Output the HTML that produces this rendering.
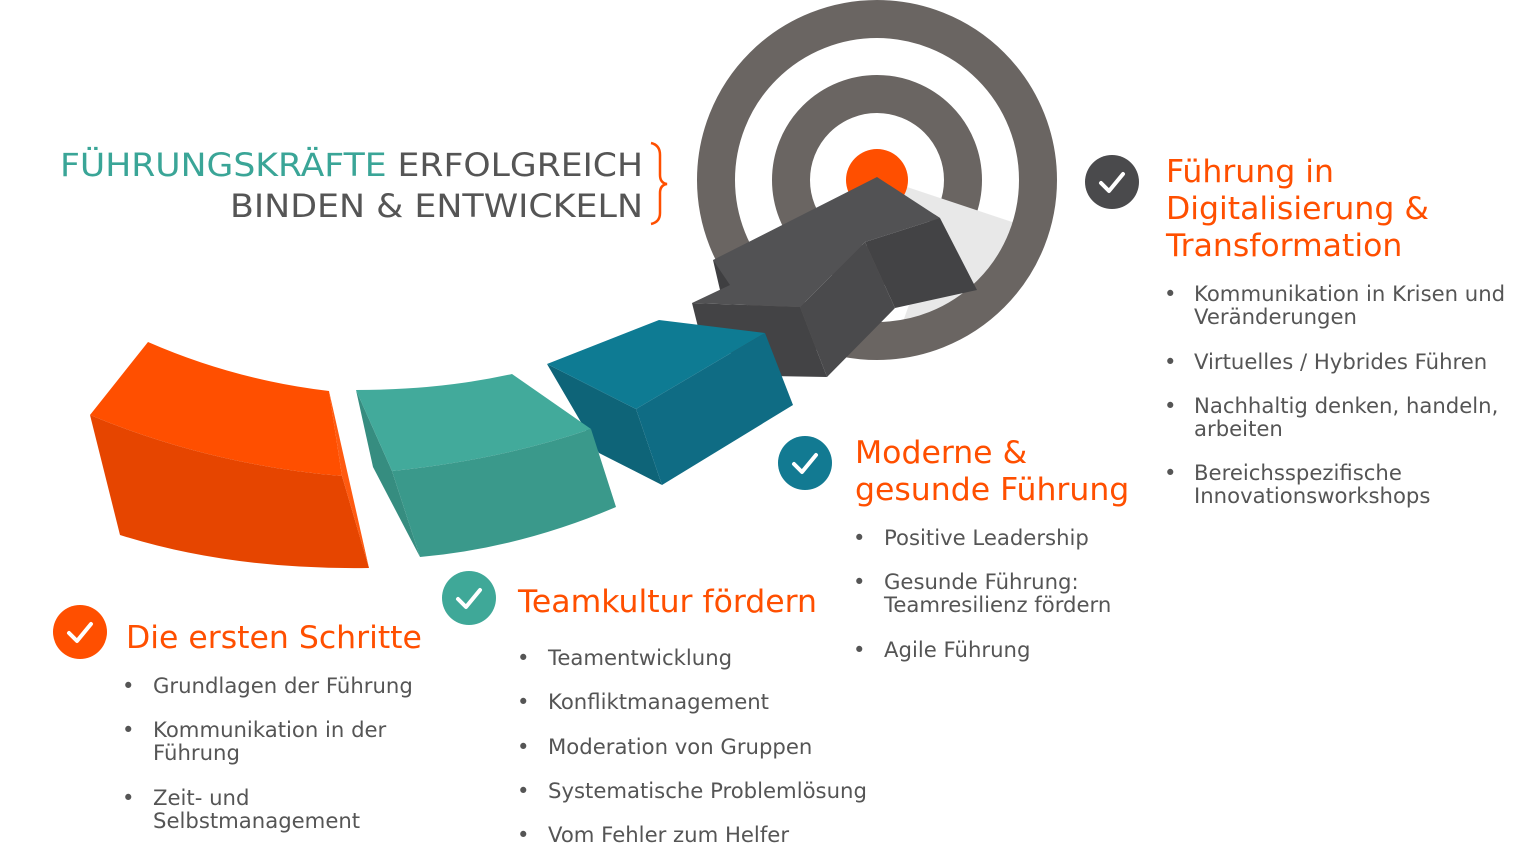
<!DOCTYPE html>
<html><head><meta charset="utf-8"><style>
html,body{margin:0;padding:0;background:#fff;width:1536px;height:860px;overflow:hidden}
svg{display:block}
text{font-family:"DejaVu Sans","Liberation Sans",sans-serif}
.b{fill:#555;font-size:21.2px}
.h{fill:#ff4f00;font-size:31.5px}
</style></head><body>
<svg width="1536" height="860" viewBox="0 0 1536 860" xmlns="http://www.w3.org/2000/svg">
<defs><clipPath id="c"><circle cx="877" cy="180" r="142"/></clipPath></defs>
<!-- target -->
<circle cx="877" cy="180" r="86" fill="none" stroke="#6a6562" stroke-width="38"/>
<polygon clip-path="url(#c)" points="877,177 1030,228 1030,330 900,330 940,218" fill="#e8e8e8"/>
<circle cx="877" cy="180" r="161" fill="none" stroke="#6a6562" stroke-width="38"/>
<circle cx="877" cy="180" r="31" fill="#ff4f00"/>
<!-- dark arrow -->
<polygon points="713,260 760,258 740,290 720,290" fill="#3f3f41"/>
<polygon points="692,303 800,307 827,377 770,376 700,335" fill="#434345"/>
<polygon points="713,260 877,177 940,218 865,242 800,307 692,303 730,285" fill="#525254"/>
<polygon points="865,242 940,218 977,290 895,308" fill="#434345"/>
<polygon points="800,307 865,242 895,308 827,377" fill="#4a4a4c"/>
<!-- blue -->
<polygon points="547,364 636,409 662,485 599,453" fill="#0e6478"/>
<polygon points="547,364 659,320 765,333 636,409" fill="#0e7b93"/>
<polygon points="636,409 765,333 793,405 662,485" fill="#0f6c84"/>
<!-- teal -->
<polygon points="356,390 392,471 420,557 373,467" fill="#368d80"/>
<path d="M356,390 Q440,390 512,374 L591,429 Q500,460 392,471 Z" fill="#42aa9b"/>
<path d="M392,471 Q500,460 591,429 L616,507 Q520,548 420,557 Z" fill="#3a998b"/>
<!-- orange -->
<path d="M148,342 Q235,380 329,391 L342,476 Q210,465 90,415 Z" fill="#ff4f00"/>
<path d="M90,415 Q210,465 342,476 L369,568 Q230,570 120,535 Z" fill="#e64500"/>
<polygon points="329,391 342,476 369,568" fill="#ff5a10"/>
<!-- title -->
<text x="643" y="176" text-anchor="end" font-size="32" textLength="583" lengthAdjust="spacingAndGlyphs"><tspan fill="#3aa597">FÜHRUNGSKRÄFTE</tspan><tspan fill="#555"> ERFOLGREICH</tspan></text>
<text x="643" y="217" text-anchor="end" font-size="32" fill="#555" textLength="413" lengthAdjust="spacingAndGlyphs">BINDEN &amp; ENTWICKELN</text>
<path d="M651,143 Q660,145 660,155 L660,175 Q660,183 667,184 Q660,185 660,193 L660,213 Q660,222 651,224" fill="none" stroke="#ff4f00" stroke-width="2.5"/>
<!-- checks -->
<g stroke="#fff" stroke-width="4" fill="none" stroke-linecap="round" stroke-linejoin="round">
<circle cx="1112" cy="182" r="27" fill="#4a4a4c" stroke="none"/><path d="M1101,183 L1109,191 L1123,174"/>
<circle cx="805" cy="463" r="27" fill="#127a92" stroke="none"/><path d="M794,464 L802,472 L816,455"/>
<circle cx="469" cy="598" r="27" fill="#3fa898" stroke="none"/><path d="M458,599 L466,607 L480,590"/>
<circle cx="80" cy="632" r="27" fill="#ff4f00" stroke="none"/><path d="M69,633 L77,641 L91,624"/>
</g>
<!-- right column -->
<text class="h" x="1166" y="182">Führung in</text>
<text class="h" x="1166" y="219">Digitalisierung &amp;</text>
<text class="h" x="1166" y="256">Transformation</text>
<g class="b">
<text x="1164" y="301">•</text><text x="1194" y="301">Kommunikation in Krisen und</text><text x="1194" y="324">Veränderungen</text>
<text x="1164" y="369">•</text><text x="1194" y="369">Virtuelles / Hybrides Führen</text>
<text x="1164" y="413">•</text><text x="1194" y="413">Nachhaltig denken, handeln,</text><text x="1194" y="436">arbeiten</text>
<text x="1164" y="480">•</text><text x="1194" y="480">Bereichsspezifische</text><text x="1194" y="503">Innovationsworkshops</text>
</g>
<!-- moderne -->
<text class="h" x="855" y="463">Moderne &amp;</text>
<text class="h" x="855" y="500">gesunde Führung</text>
<g class="b">
<text x="853" y="545">•</text><text x="884" y="545">Positive Leadership</text>
<text x="853" y="589">•</text><text x="884" y="589">Gesunde Führung:</text><text x="884" y="612">Teamresilienz fördern</text>
<text x="853" y="657">•</text><text x="884" y="657">Agile Führung</text>
</g>
<!-- teamkultur -->
<text class="h" x="518" y="612">Teamkultur fördern</text>
<g class="b">
<text x="517" y="665">•</text><text x="548" y="665">Teamentwicklung</text>
<text x="517" y="709">•</text><text x="548" y="709">Konfliktmanagement</text>
<text x="517" y="754">•</text><text x="548" y="754">Moderation von Gruppen</text>
<text x="517" y="798">•</text><text x="548" y="798">Systematische Problemlösung</text>
<text x="517" y="842">•</text><text x="548" y="842">Vom Fehler zum Helfer</text>
</g>
<!-- erste -->
<text class="h" x="126" y="648">Die ersten Schritte</text>
<g class="b">
<text x="122" y="693">•</text><text x="153" y="693">Grundlagen der Führung</text>
<text x="122" y="737">•</text><text x="153" y="737">Kommunikation in der</text><text x="153" y="760">Führung</text>
<text x="122" y="805">•</text><text x="153" y="805">Zeit- und</text><text x="153" y="828">Selbstmanagement</text>
</g>
</svg>
</body></html>
